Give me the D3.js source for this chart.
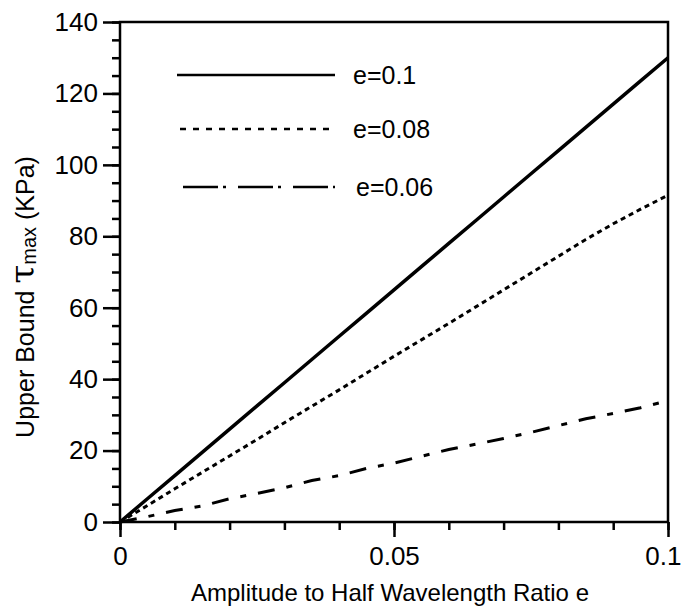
<!DOCTYPE html>
<html>
<head>
<meta charset="utf-8">
<script src="https://cdn.jsdelivr.net/npm/d3@7"></script>
<style>
  body { margin: 0; background: #fff; }
  text { font-family: "Liberation Sans", Arial, Helvetica, sans-serif; fill: #000; }
</style>
</head>
<body>
<script>
// data
var ratio = [0, 0.005, 0.01, 0.015, 0.02, 0.025, 0.03, 0.035, 0.04, 0.045, 0.05,
             0.055, 0.06, 0.065, 0.07, 0.075, 0.08, 0.085, 0.09, 0.095, 0.1];
var tau01 = [0, 6.5, 13, 19.5, 26, 32.5, 39, 45.5, 52, 58.5, 65,
             71.5, 78, 84.5, 91, 97.5, 104, 110.5, 117, 123.5, 130];
var tau008 = [0, 4.6, 9.3, 13.9, 18.5, 23.1, 27.8, 32.4, 37, 41.7, 46.4,
              51, 55.6, 60.3, 65, 69.7, 74.4, 79.1, 83.5, 87.6, 91.5];
var tau006 = [0, 1.5, 3.2, 4.5, 6.5, 8, 9.6, 11.6, 13, 15, 16.5,
              18.4, 20.3, 21.8, 23.4, 25.1, 27, 28.9, 30.4, 32, 34];
var legendLabels = ["e=0.1", "e=0.08", "e=0.06"];
var xTicks = [0, 0.05, 0.1];
var yTicks = [0, 20, 40, 60, 80, 100, 120, 140];

var series = [tau01, tau008, tau006];
var dashes = [null, "5,4", "17,12,6,12"];
var legendDashes = [null, "6,7", "35,5,3,12"];

var svg = d3.select("body").append("svg")
    .attr("width", 683)
    .attr("height", 609);

var x = d3.scaleLinear().domain([0, 0.1]).range([120, 668]);
var y = d3.scaleLinear().domain([0, 140]).range([522, 22]);

// minor ticks
svg.append("g")
    .attr("transform", "translate(0,522)")
    .call(d3.axisBottom(x).tickValues(d3.range(0, 0.1001, 0.01)).tickSize(8).tickFormat(""))
    .call(function(g) { g.select(".domain").remove(); });
svg.append("g")
    .attr("transform", "translate(120,0)")
    .call(d3.axisLeft(y).tickValues(d3.range(0, 141, 5)).tickSize(8).tickFormat(""))
    .call(function(g) { g.select(".domain").remove(); });

// major ticks with labels
var xAxis = svg.append("g")
    .attr("transform", "translate(0,522)")
    .call(d3.axisBottom(x).tickValues(xTicks).tickSize(15).tickPadding(10)
        .tickFormat(function(d) { return d === 0 ? "0" : String(+d.toFixed(2)); }));
xAxis.select(".domain").remove();
// last label sits against the right edge, as in the original
xAxis.selectAll(".tick text")
    .filter(function(d) { return d === 0.1; })
    .attr("text-anchor", "end")
    .attr("dx", 13);

var yAxis = svg.append("g")
    .attr("transform", "translate(120,0)")
    .call(d3.axisLeft(y).tickValues(yTicks).tickSize(17).tickPadding(5));
yAxis.select(".domain").remove();

svg.selectAll(".tick line").attr("stroke", "#000").attr("stroke-width", 2.5);
svg.selectAll(".tick text").attr("font-size", 26).attr("font-family", "Liberation Sans, Arial, sans-serif");

// frame
svg.append("rect")
    .attr("x", 120).attr("y", 22)
    .attr("width", 548).attr("height", 500)
    .attr("fill", "none")
    .attr("stroke", "#000")
    .attr("stroke-width", 2.5);

// curves
var line = d3.line()
    .x(function(d, i) { return x(ratio[i]); })
    .y(function(d) { return y(d); });

series.forEach(function(s, k) {
    svg.append("path")
        .attr("d", line(s))
        .attr("fill", "none")
        .attr("stroke", "#000")
        .attr("stroke-width", k === 0 ? 3.5 : 3)
        .attr("stroke-dasharray", dashes[k]);
});

// legend
var legendY = [75, 129, 187];
var legendX = [[177, 335], [180, 334], [183, 335]];
var textX = [353, 353, 356];
legendLabels.forEach(function(lbl, k) {
    svg.append("line")
        .attr("x1", legendX[k][0]).attr("x2", legendX[k][1])
        .attr("y1", legendY[k]).attr("y2", legendY[k])
        .attr("stroke", "#000")
        .attr("stroke-width", 2.5)
        .attr("stroke-dasharray", legendDashes[k]);
    svg.append("text")
        .attr("x", textX[k])
        .attr("y", legendY[k] + 9)
        .attr("font-size", 25)
        .text(lbl);
});

// axis titles
svg.append("text")
    .attr("x", 390)
    .attr("y", 601)
    .attr("text-anchor", "middle")
    .attr("font-size", 24)
    .text("Amplitude to Half Wavelength Ratio e");

var yt = svg.append("text")
    .attr("transform", "translate(34,297) rotate(-90)")
    .attr("text-anchor", "middle")
    .attr("font-size", 25);
yt.append("tspan").text("Upper Bound ");
yt.append("tspan").attr("font-size", 34).attr("font-family", "DejaVu Serif, serif").text("τ");
yt.append("tspan").attr("font-size", 20).attr("dy", 2).text("max");
yt.append("tspan").attr("dy", -2).text(" (KPa)");
</script>
</body>
</html>
